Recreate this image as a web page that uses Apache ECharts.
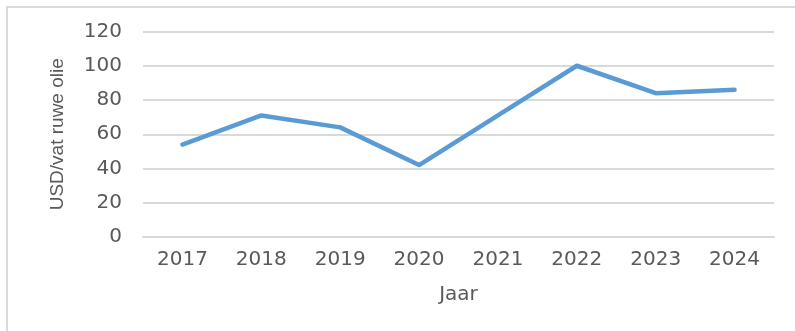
<!DOCTYPE html>
<html>
<head>
<meta charset="utf-8">
<script src="https://cdn.jsdelivr.net/npm/echarts@6/dist/echarts.min.js"></script>
<style>
  html, body { margin: 0; padding: 0; background: #ffffff; }
  #frame { position: absolute; left: 6px; top: 6px; width: 900px; height: 400px;
           border-top: 2px solid #d9d9d9; border-left: 2px solid #d9d9d9; box-sizing: border-box; }
  #chart { position: absolute; left: 0; top: 0; width: 795px; height: 331px; }
</style>
</head>
<body>
<div id="frame"></div>
<div id="chart"></div>
<script>
const years = ['2017', '2018', '2019', '2020', '2021', '2022', '2023', '2024'];
const prices = [54, 71, 64, 42, 71, 100, 84, 86];
const yTicks = { min: 0, max: 120, interval: 20 };
const xAxisTitle = 'Jaar';
const yAxisTitle = 'USD/vat ruwe olie';

const chart = echarts.init(document.getElementById('chart'), null, { renderer: 'canvas' });
chart.setOption({
  backgroundColor: 'transparent',
  animation: false,
  grid: { left: 143, right: 21, top: 31.5, bottom: 94, containLabel: false },
  xAxis: {
    type: 'category',
    data: years,
    boundaryGap: true,
    name: xAxisTitle,
    nameLocation: 'middle',
    nameGap: 48,
    nameTextStyle: { color: '#595959', fontSize: 20, fontFamily: 'DejaVu Sans' },
    axisLine: { show: true, lineStyle: { color: '#d9d9d9', width: 2 } },
    axisTick: { show: false },
    axisLabel: { color: '#595959', fontSize: 20, fontFamily: 'DejaVu Sans', margin: 13 }
  },
  yAxis: {
    type: 'value',
    min: yTicks.min,
    max: yTicks.max,
    interval: yTicks.interval,
    name: yAxisTitle,
    nameLocation: 'middle',
    nameGap: 76,
    nameRotate: 90,
    nameTextStyle: { color: '#595959', fontSize: 19, fontFamily: 'Liberation Sans' },
    axisLine: { show: false },
    axisTick: { show: false },
    splitLine: { show: true, lineStyle: { color: '#d9d9d9', width: 2 } },
    axisLabel: { color: '#595959', fontSize: 20, fontFamily: 'DejaVu Sans', margin: 21 }
  },
  series: [{
    type: 'line',
    data: prices,
    showSymbol: false,
    symbol: 'none',
    lineStyle: { color: '#5b9bd5', width: 4.5, cap: 'round', join: 'round' },
    itemStyle: { color: '#5b9bd5' }
  }]
});
</script>
</body>
</html>
